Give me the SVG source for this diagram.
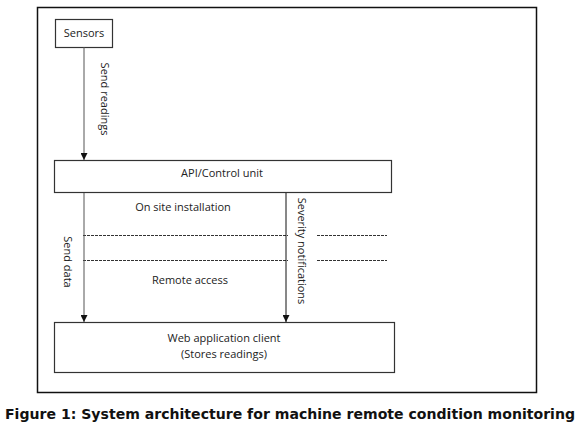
<svg xmlns="http://www.w3.org/2000/svg" width="580" height="432" viewBox="0 0 580 432">
<defs>
<style>
.box{fill:#fff;stroke:#333;stroke-width:1.2}
.lbl{font-family:"Open Sans","Liberation Sans",sans-serif;font-size:11px;fill:#222}
.conn{stroke:#555;stroke-width:1;fill:none}
.dash{stroke:#333;stroke-width:1;stroke-dasharray:3 1;fill:none}
</style>
<marker id="ah" viewBox="0 0 8 8" refX="8" refY="4" markerWidth="7" markerHeight="7" markerUnits="userSpaceOnUse" orient="auto">
<path d="M0,0 L8,4 L0,8 z" fill="#111"/>
</marker>
</defs>
<rect x="0" y="0" width="580" height="432" fill="#fff"/>
<rect x="37.5" y="7.5" width="499" height="385" fill="none" stroke="#111" stroke-width="1.5"/>
<g id="sensors">
<rect class="box" x="55.5" y="19.5" width="57" height="28"/>
<text class="lbl" x="84" y="37" text-anchor="middle">Sensors</text>
</g>
<g id="api">
<rect class="box" x="54.5" y="160.5" width="337" height="32"/>
<text class="lbl" x="222" y="177" text-anchor="middle">API/Control unit</text>
</g>
<g id="webclient">
<rect class="box" x="54.5" y="322.5" width="340" height="50"/>
<text class="lbl" x="224" y="342" text-anchor="middle">Web application client</text>
<text class="lbl" x="224" y="358" text-anchor="middle">(Stores readings)</text>
</g>
<g id="zones">
<text class="lbl" x="183" y="211" text-anchor="middle">On site installation</text>
<text class="lbl" x="190" y="284" text-anchor="middle">Remote access</text>
<path class="dash" d="M83,235.5 H288 M317,235.5 H387 M83,260.5 H288 M317,260.5 H387"/>
</g>
<g id="connectors">
<line class="conn" x1="84" y1="47" x2="84" y2="160" marker-end="url(#ah)"/>
<text class="lbl" transform="translate(101,99) rotate(90)" text-anchor="middle">Send readings</text>
<line class="conn" x1="84" y1="193" x2="84" y2="322" marker-end="url(#ah)"/>
<text class="lbl" transform="translate(64,262) rotate(90)" text-anchor="middle">Send data</text>
<line x1="286" y1="193" x2="286" y2="322" stroke="#111" stroke-width="1" marker-end="url(#ah)"/>
<text class="lbl" transform="translate(298,251) rotate(90)" text-anchor="middle">Severity notifications</text>
</g>
<text x="290" y="419" text-anchor="middle" font-family="'DejaVu Sans',Verdana,sans-serif" font-weight="bold" font-size="14" fill="#111" textLength="570" lengthAdjust="spacingAndGlyphs">Figure 1: System architecture for machine remote condition monitoring</text>
</svg>
